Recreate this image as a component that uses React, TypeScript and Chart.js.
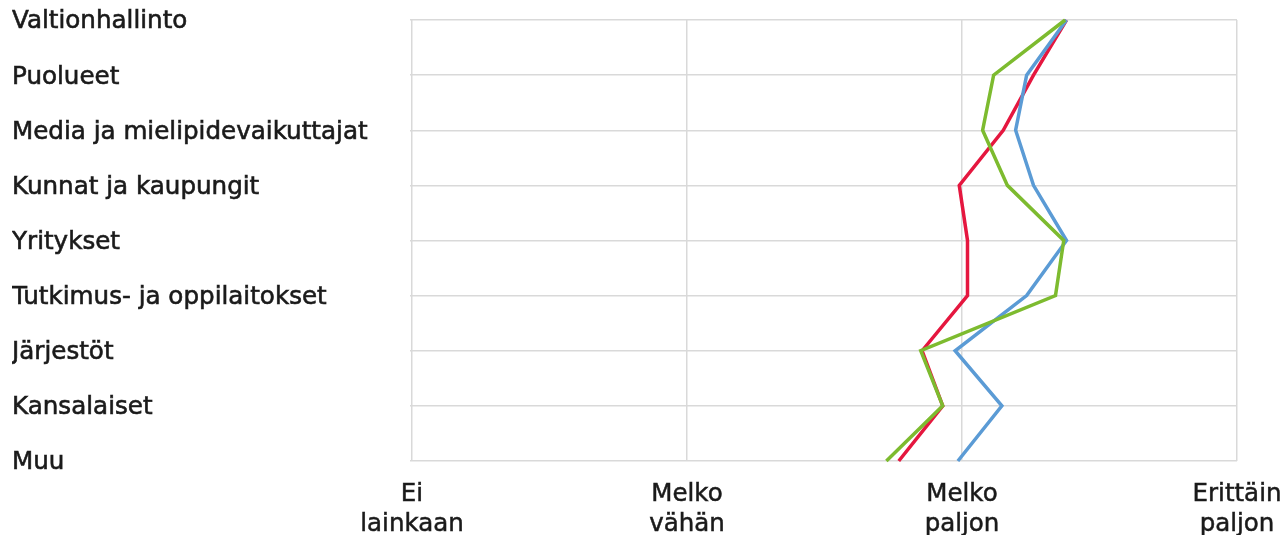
import React, { useEffect, useRef } from "react";
import { Chart, registerables } from "chart.js";

Chart.register(...registerables);

const categories = [
  "Valtionhallinto",
  "Puolueet",
  "Media ja mielipidevaikuttajat",
  "Kunnat ja kaupungit",
  "Yritykset",
  "Tutkimus- ja oppilaitokset",
  "Järjestöt",
  "Kansalaiset",
  "Muu",
];

const redValues = [3.38, 3.26, 3.15, 2.99, 3.02, 3.02, 2.855, 2.93, 2.77];
const blueValues = [3.38, 3.235, 3.195, 3.26, 3.38, 3.235, 2.975, 3.145, 2.985];
const greenValues = [3.375, 3.115, 3.075, 3.165, 3.37, 3.34, 2.85, 2.93, 2.725];

const xTickLabels: Record<number, string[]> = {
  1: ["Ei", "lainkaan"],
  2: ["Melko", "vähän"],
  3: ["Melko", "paljon"],
  4: ["Erittäin", "paljon"],
};

export default function App() {
  const canvasRef = useRef<HTMLCanvasElement | null>(null);

  useEffect(() => {
    const canvas = canvasRef.current;
    if (!canvas) return;
    const line = (label: string, data: number[], color: string) => ({
      label,
      data,
      borderColor: color,
      borderWidth: 3.5,
      pointRadius: 0,
      tension: 0,
      fill: false,
    });
    const chart = new Chart(canvas, {
      type: "line",
      data: {
        labels: categories,
        datasets: [
          line("Vihreä", greenValues, "#7DBB2F"),
          line("Sininen", blueValues, "#5B9BD5"),
          line("Punainen", redValues, "#E5173F"),
        ],
      },
      options: {
        indexAxis: "y",
        animation: false,
        responsive: false,
        maintainAspectRatio: false,
        layout: { padding: { left: 12, right: 51, top: 20, bottom: 0 } },
        plugins: {
          legend: { display: false },
          tooltip: { enabled: false },
        },
        scales: {
          y: {
            type: "category",
            position: "left",
            offset: false,
            border: { display: false },
            grid: {
              color: "#d9d9d9",
              lineWidth: 1.5,
              drawTicks: true,
              tickLength: 2,
            },
            ticks: {
              crossAlign: "far",
              color: "#1a1a1a",
              textStrokeColor: "#1a1a1a",
              textStrokeWidth: 0.6,
              labelOffset: 2,
              font: { family: "'DejaVu Sans'", size: 24.6 },
              autoSkip: false,
            },
            afterFit: (scale: any) => {
              scale.width = 400;
            },
          },
          x: {
            type: "linear",
            min: 1,
            max: 4,
            position: "bottom",
            border: { display: false },
            grid: {
              color: "#d9d9d9",
              lineWidth: 1.5,
              drawTicks: false,
            },
            ticks: {
              stepSize: 1,
              padding: 19,
              color: "#1a1a1a",
              textStrokeColor: "#1a1a1a",
              textStrokeWidth: 0.5,
              maxRotation: 0,
              font: { family: "'DejaVu Sans'", size: 24.5, lineHeight: 1.22 },
              callback: (v: any) => xTickLabels[Number(v)] ?? "",
            },
            afterFit: (scale: any) => {
              scale.height = 74;
              scale.paddingLeft = 0;
              scale.paddingRight = 0;
            },
          },
        },
      },
    });
    return () => chart.destroy();
  }, []);

  return (
    <div style={{ position: "fixed", left: 0, top: 0, width: 1288, height: 535, background: "#fff" }}>
      <canvas ref={canvasRef} width={1288} height={535} style={{ width: 1288, height: 535 }} />
    </div>
  );
}
